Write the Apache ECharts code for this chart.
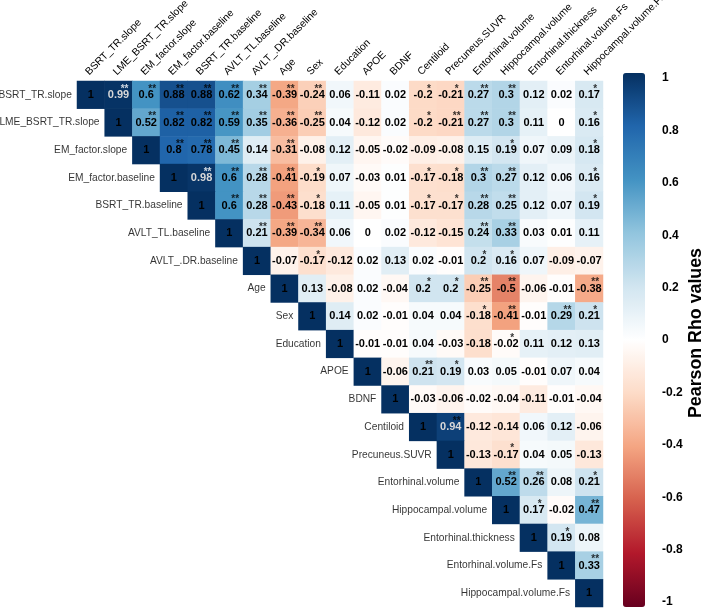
<!DOCTYPE html>
<html>
<head>
<meta charset="utf-8">
<script src="https://cdn.jsdelivr.net/npm/echarts@6/dist/echarts.min.js"></script>
<style>html,body{margin:0;padding:0;background:#fff;}#c{width:708px;height:611px;}</style>
</head>
<body>
<div id="c"></div>
<script>
var variables = ["BSRT_TR.slope","LME_BSRT_TR.slope","EM_factor.slope","EM_factor.baseline","BSRT_TR.baseline","AVLT_TL.baseline","AVLT_.DR.baseline","Age","Sex","Education","APOE","BDNF","Centiloid","Precuneus.SUVR","Entorhinal.volume","Hippocampal.volume","Entorhinal.thickness","Entorhinal.volume.Fs","Hippocampal.volume.Fs"];

// upper-triangle correlations, row i starts at column i
var rho = [
  [1,0.99,0.6,0.88,0.88,0.62,0.34,-0.39,-0.24,0.06,-0.11,0.02,-0.2,-0.21,0.27,0.3,0.12,0.02,0.17],
  [1,0.52,0.82,0.82,0.59,0.35,-0.36,-0.25,0.04,-0.12,0.02,-0.2,-0.21,0.27,0.3,0.11,0,0.16],
  [1,0.8,0.78,0.45,0.14,-0.31,-0.08,0.12,-0.05,-0.02,-0.09,-0.08,0.15,0.19,0.07,0.09,0.18],
  [1,0.98,0.6,0.28,-0.41,-0.19,0.07,-0.03,0.01,-0.17,-0.18,0.3,0.27,0.12,0.06,0.16],
  [1,0.6,0.28,-0.43,-0.18,0.11,-0.05,0.01,-0.17,-0.17,0.28,0.25,0.12,0.07,0.19],
  [1,0.21,-0.39,-0.34,0.06,0,0.02,-0.12,-0.15,0.24,0.33,0.03,0.01,0.11],
  [1,-0.07,-0.17,-0.12,0.02,0.13,0.02,-0.01,0.2,0.16,0.07,-0.09,-0.07],
  [1,0.13,-0.08,0.02,-0.04,0.2,0.2,-0.25,-0.5,-0.06,-0.01,-0.38],
  [1,0.14,0.02,-0.01,0.04,0.04,-0.18,-0.41,-0.01,0.29,0.21],
  [1,-0.01,-0.01,0.04,-0.03,-0.18,-0.02,0.11,0.12,0.13],
  [1,-0.06,0.21,0.19,0.03,0.05,-0.01,0.07,0.04],
  [1,-0.03,-0.06,-0.02,-0.04,-0.11,-0.01,-0.04],
  [1,0.94,-0.12,-0.14,0.06,0.12,-0.06],
  [1,-0.13,-0.17,0.04,0.05,-0.13],
  [1,0.52,0.26,0.08,0.21],
  [1,0.17,-0.02,0.47],
  [1,0.19,0.08],
  [1,0.33],
  [1]
];

// significance stars, same layout
var sig = [
  ["","**","**","**","**","**","**","**","**","","","","*","*","**","**","","","*"],
  ["","**","**","**","**","**","**","**","","","","*","**","**","**","","","*"],
  ["","**","**","**","","**","","","","","","","","*","","","*"],
  ["","**","**","**","**","*","","","","*","*","**","**","","","*"],
  ["","**","**","**","*","","","","*","*","**","**","","","*"],
  ["","**","**","**","","","","","","**","**","","",""],
  ["","","*","","","","","","*","*","","",""],
  ["","","","","","*","*","**","**","","","**"],
  ["","","","","","","*","**","","**","*"],
  ["","","","","","","*","","","",""],
  ["","","**","*","","","","",""],
  ["","","","","","","",""],
  ["","**","","","","",""],
  ["","","*","","",""],
  ["","**","**","","*"],
  ["","*","","**"],
  ["","*",""],
  ["","**"],
  [""]
];

var palette = ["#67001F","#B2182B","#D6604D","#F4A582","#FDDBC7","#FFFFFF","#D1E5F0","#92C5DE","#4393C3","#2166AC","#053061"];
var colorbarTicks = [-1,-0.8,-0.6,-0.4,-0.2,0,0.2,0.4,0.6,0.8,1];

var FONT = "Liberation Sans, Arial, sans-serif";
var cells = [], stars = [], rowLabels = [];
for (var i = 0; i < rho.length; i++) {
  for (var k = 0; k < rho[i].length; k++) {
    var j = i + k, v = rho[i][k];
    var light = (v >= 0.9 && i !== j);
    cells.push({value: [j, i, v], label: {color: light ? "#d8d8d8" : "#000"}});
    if (sig[i][k]) {
      stars.push({value: [j, i, sig[i][k]], label: {color: (v >= 0.97 && i !== j) ? "#fff" : "#000"}});
    }
  }
  rowLabels.push({value: [i, i, variables[i]]});
}

var chart = echarts.init(document.getElementById('c'), null, {renderer: 'canvas'});
chart.setOption({
  animation: false,
  backgroundColor: '#fff',
  textStyle: {fontFamily: FONT},
  grid: [
    {left: 77, top: 81, width: 526, height: 526, show: false, containLabel: false, outerBoundsMode: 'none'},
    {left: 623, top: 78, width: 22, height: 524, show: false, containLabel: false, outerBoundsMode: 'none'}
  ],
  xAxis: [
    {type: 'category', data: variables, position: 'top', gridIndex: 0,
     axisLine: {show: false}, axisTick: {show: false}, splitLine: {show: false},
     axisLabel: {rotate: -45, fontSize: 10.3, color: '#000', margin: 4, verticalAlign: 'bottom',
       fontFamily: FONT, interval: 0}},
    {type: 'value', gridIndex: 1, show: false, min: 0, max: 1}
  ],
  yAxis: [
    {type: 'category', data: variables, inverse: true, gridIndex: 0, show: false},
    {type: 'value', gridIndex: 1, min: -1, max: 1, interval: 0.2, position: 'right',
     axisLine: {show: false}, splitLine: {show: false},
     axisTick: {show: true, length: 4, lineStyle: {color: '#000'}},
     axisLabel: {fontSize: 12, fontWeight: 'bold', color: '#000', margin: 17, fontFamily: FONT,
       customValues: colorbarTicks}}
  ],
  visualMap: {
    type: 'continuous', min: -1, max: 1, seriesIndex: 0, calculable: false,
    orient: 'vertical', left: 623, top: 73, itemWidth: 22, itemHeight: 534, padding: 0,
    inRange: {color: palette}, text: null, showLabel: false
  },
  series: [
    {type: 'heatmap', xAxisIndex: 0, yAxisIndex: 0, data: cells,
     label: {show: true, fontSize: 11, fontWeight: 'bold', fontFamily: FONT,
       formatter: function (p) { return String(p.value[2]); }},
     emphasis: {disabled: true}},
    {type: 'scatter', xAxisIndex: 0, yAxisIndex: 0, data: stars, symbolSize: 0.1,
     itemStyle: {color: 'transparent'}, z: 5,
     label: {show: true, position: 'inside', offset: [6, -6], fontSize: 10, fontWeight: 'bold', fontFamily: FONT,
       formatter: function (p) { return p.value[2]; }}},
    {type: 'scatter', xAxisIndex: 0, yAxisIndex: 0, data: rowLabels, symbolSize: 0.1,
     itemStyle: {color: 'transparent'}, z: 5,
     label: {show: true, position: 'left', distance: 19, fontSize: 10.2, color: '#000', fontFamily: FONT,
       formatter: function (p) { return p.value[2]; }}}
  ],
  graphic: [
    {type: 'text', x: 696, y: 333, rotation: Math.PI / 2,
     style: {text: 'Pearson Rho values', font: 'bold 17.8px ' + FONT, fill: '#000',
       textAlign: 'center', textVerticalAlign: 'middle'}}
  ]
});
</script>
</body>
</html>
